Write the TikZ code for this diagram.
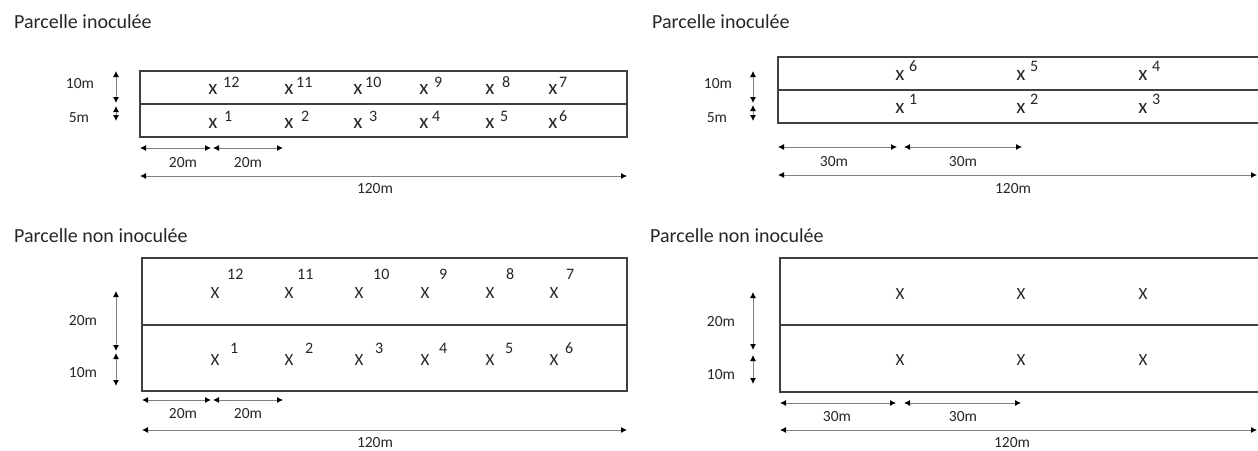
\documentclass[tikz,border=0pt]{standalone}
\usepackage{fontspec}
\setmainfont{Carlito}
\usetikzlibrary{arrows.meta}

\begin{document}
\begin{tikzpicture}
	[x=1pt,y=-1pt,
	plot/.style={draw=black!75,line width=1.3pt},
	dim/.style={draw=black!50,line width=0.9pt,
		{Latex[length=6pt,width=6pt,color=black]}-{Latex[length=6pt,width=6pt,color=black]}},
	title/.style={anchor=base west,inner sep=0pt,font=\fontsize{20}{24}\selectfont,text=black!85},
	lab/.style={inner sep=0pt,font=\fontsize{15.5}{18}\selectfont,text=black!85},
	pointx/.style={inner sep=0pt,font=\fontsize{21}{24}\selectfont,text=black!85},
	pointX/.style={inner sep=0pt,font=\fontsize{17}{20}\selectfont,text=black!85},
	num/.style={anchor=west,inner sep=0pt,font=\fontsize{16}{18}\selectfont,text=black!85}]

	\useasboundingbox (0,0) rectangle (1258,450);

	% inoculated plot, 20m spacing
	\node[title] (tl) at (14,28) {Parcelle inoculée};
	\draw[plot] (140,71) rectangle (627,137);
	\draw[plot] (140,104) -- (627,104);
	\draw[dim] (116,71) -- (116,103);
	\draw[dim] (116,106) -- (116,121);
	\node[lab] (tl10) at (80,84) {10m};
	\node[lab] (tl5) at (79,118) {5m};
	\foreach \px/\up/\ug/\lo/\lg in {213/12/10/1/11, 289/11/7/2/12, 358/10/7/3/11,
		424/9/10/4/8, 490/8/12/5/10, 553/7/6/6/6}{
		\node[pointx] (tlu\up) at (\px,89) {x};
		\node[num] at (\px+\ug,82) {\up};
		\node[pointx] (tll\lo) at (\px,123) {x};
		\node[num] at (\px+\lg,116) {\lo};
	}
	\draw[dim] (140,148) -- (211,148);
	\draw[dim] (213,148) -- (283,148);
	\node[lab] at (183,163) {20m};
	\node[lab] at (248,163) {20m};
	\draw[dim] (140,176) -- (627,176);
	\node[lab] at (375,189) {120m};

	% inoculated plot, 30m spacing
	\node[title] (tr) at (652,28) {Parcelle inoculée};
	\draw[plot] (778,57) rectangle (1265,123);
	\draw[plot] (778,90) -- (1265,90);
	\draw[dim] (753,71) -- (753,103);
	\draw[dim] (753,105) -- (753,121);
	\node[lab] (tr10) at (718,84) {10m};
	\node[lab] (tr5) at (717,118) {5m};
	\foreach \px/\up/\lo in {900/6/1, 1021/5/2, 1143/4/3}{
		\node[pointx] (tru\up) at (\px,75) {x};
		\node[num] at (\px+9,66) {\up};
		\node[pointx] (trl\lo) at (\px,108) {x};
		\node[num] at (\px+9,99) {\lo};
	}
	\draw[dim] (778,147) -- (897,147);
	\draw[dim] (904,147) -- (1022,147);
	\node[lab] at (834,162) {30m};
	\node[lab] at (963,162) {30m};
	\draw[dim] (778,175) -- (1257,175);
	\node[lab] at (1013,189) {120m};

	% non inoculated plot, 20m spacing
	\node[title] (bl) at (14,242) {Parcelle non inoculée};
	\draw[plot] (142,258) rectangle (627,391);
	\draw[plot] (142,325) -- (627,325);
	\draw[dim] (116,291) -- (116,351);
	\draw[dim] (116,353) -- (116,386);
	\node[lab] (bl20) at (83,321) {20m};
	\node[lab] (bl10) at (83,373) {10m};
	\foreach \px/\up/\ug/\lo/\lg in {215/12/12/1/15, 289/11/8/2/16, 359/10/14/3/16,
		425/9/14/4/14, 490/8/16/5/15, 554/7/12/6/11}{
		\node[pointX] (blu\up) at (\px,293) {X};
		\node[num] at (\px+\ug,274) {\up};
		\node[pointX] (bll\lo) at (\px,360) {X};
		\node[num] at (\px+\lg,348) {\lo};
	}
	\draw[dim] (142,400) -- (211,400);
	\draw[dim] (213,400) -- (283,400);
	\node[lab] at (183,414) {20m};
	\node[lab] at (248,414) {20m};
	\draw[dim] (142,430) -- (627,430);
	\node[lab] at (375,443) {120m};

	% non inoculated plot, 30m spacing
	\node[title] (br) at (650,242) {Parcelle non inoculée};
	\draw[plot] (780,258) rectangle (1265,392);
	\draw[plot] (780,325) -- (1265,325);
	\draw[dim] (753,292) -- (753,350);
	\draw[dim] (753,355) -- (753,384);
	\node[lab] (br20) at (721,322) {20m};
	\node[lab] (br10) at (721,375) {10m};
	\foreach \px [count=\i] in {900,1021,1143}{
		\node[pointX] (bru\i) at (\px,294) {X};
		\node[pointX] (brl\i) at (\px,360) {X};
	}
	\draw[dim] (780,403) -- (896,403);
	\draw[dim] (904,403) -- (1021,403);
	\node[lab] at (837,417) {30m};
	\node[lab] at (963,417) {30m};
	\draw[dim] (780,430) -- (1257,430);
	\node[lab] at (1012,443) {120m};
\end{tikzpicture}
\end{document}
